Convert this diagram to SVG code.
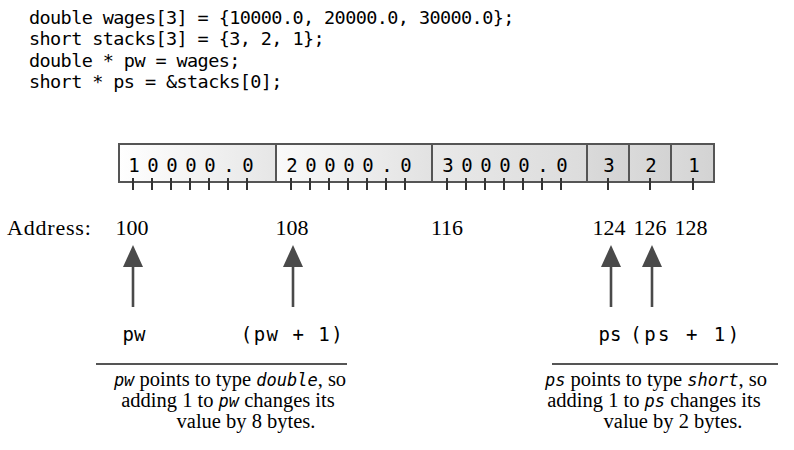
<svg xmlns="http://www.w3.org/2000/svg" width="794" height="450" viewBox="0 0 794 450">
<defs>
<linearGradient id="g1" x1="0" y1="0" x2="1" y2="0"><stop offset="0" stop-color="#ffffff"/><stop offset="1" stop-color="#e6e6e6"/></linearGradient>
<linearGradient id="g2" x1="0" y1="0" x2="1" y2="0"><stop offset="0" stop-color="#fafafa"/><stop offset="1" stop-color="#e2e2e2"/></linearGradient>
<linearGradient id="g3" x1="0" y1="0" x2="1" y2="0"><stop offset="0" stop-color="#e9e9e9"/><stop offset="1" stop-color="#dcdcdc"/></linearGradient>
<linearGradient id="g4" x1="0" y1="0" x2="1" y2="0"><stop offset="0" stop-color="#dadada"/><stop offset="1" stop-color="#d3d3d3"/></linearGradient>
<marker id="ah" viewBox="0 0 22 20" refX="0" refY="10" markerWidth="22" markerHeight="20" markerUnits="userSpaceOnUse" orient="auto"><path d="M0,0 L22,10 L0,20 z" fill="#4a4a4a"/></marker>
</defs>
<style>
.code{font-family:"DejaVu Sans Mono","Liberation Mono",monospace;font-size:18.5px;letter-spacing:-0.6px;fill:#000}
.cell{stroke:#555;stroke-width:2}
.bt{font-family:"DejaVu Sans Mono","Liberation Mono",monospace;font-size:19px;fill:#000;text-anchor:middle}
.tick{stroke:#333;stroke-width:2}
.addr{font-family:"Liberation Serif","Times New Roman",serif;font-size:22px;fill:#000}
.lbl{font-family:"DejaVu Sans Mono","Liberation Mono",monospace;font-size:19px;fill:#000}
.arr{stroke:#4a4a4a;stroke-width:2.6}
.rule{stroke:#555;stroke-width:2}
.cap{font-family:"Liberation Serif","Times New Roman",serif;font-size:20.5px;fill:#000;text-anchor:middle}
.mi{font-family:"DejaVu Sans Mono","Liberation Mono",monospace;font-style:italic;font-size:17px}
</style>
<g id="code">
<text class="code" x="29" y="24">double wages[3] = {10000.0, 20000.0, 30000.0};</text>
<text class="code" x="29" y="45">short stacks[3] = {3, 2, 1};</text>
<text class="code" x="29" y="66.5">double * pw = wages;</text>
<text class="code" x="29" y="88">short * ps = &amp;stacks[0];</text>
</g>
<g id="memory">
<g id="cell-w0"><rect class="cell" x="119" y="144" width="157" height="38" fill="url(#g1)"/>
<text class="bt" x="134 153 172 191 210 229 248" y="172">10000.0</text></g>
<g id="cell-w1"><rect class="cell" x="276" y="144" width="156" height="38" fill="url(#g2)"/>
<text class="bt" x="292 311 330 349 368 387 406" y="172">20000.0</text></g>
<g id="cell-w2"><rect class="cell" x="432" y="144" width="155" height="38" fill="url(#g3)"/>
<text class="bt" x="448 467 486 505 524 543 562" y="172">30000.0</text></g>
<g id="cell-s0"><rect class="cell" x="587" y="144" width="42" height="38" fill="url(#g4)"/>
<text class="bt" x="609" y="172">3</text></g>
<g id="cell-s1"><rect class="cell" x="629" y="144" width="42" height="38" fill="url(#g4)"/>
<text class="bt" x="651" y="172">2</text></g>
<g id="cell-s2"><rect class="cell" x="671" y="144" width="43" height="38" fill="url(#g4)"/>
<text class="bt" x="694" y="172">1</text></g>
<path class="tick" d="M133,178V190M152,178V190M171,178V190M190,178V190M209,178V190M228,178V190M247,178V190M291,178V190M310,178V190M329,178V190M348,178V190M367,178V190M386,178V190M405,178V190M447,178V190M466,178V190M485,178V190M504,178V190M523,178V190M542,178V190M561,178V190M608,178V190M650,178V190M693,178V190"/>
</g>
<g id="addresses">
<text class="addr" x="7" y="235" letter-spacing="0.8">Address:</text>
<text class="addr" x="132" y="235" text-anchor="middle">100</text>
<text class="addr" x="292" y="235" text-anchor="middle">108</text>
<text class="addr" x="447" y="235" text-anchor="middle">116</text>
<text class="addr" x="609" y="235" text-anchor="middle">124</text>
<text class="addr" x="650" y="235" text-anchor="middle">126</text>
<text class="addr" x="691" y="235" text-anchor="middle">128</text>
</g>
<g id="connectors">
<line class="arr" x1="133" y1="307" x2="133" y2="267" marker-end="url(#ah)"/>
<line class="arr" x1="293" y1="307" x2="293" y2="267" marker-end="url(#ah)"/>
<line class="arr" x1="611" y1="307" x2="611" y2="267" marker-end="url(#ah)"/>
<line class="arr" x1="652" y1="307" x2="652" y2="267" marker-end="url(#ah)"/>
</g>
<g id="label-pw"><text class="lbl" x="134" y="341" text-anchor="middle">pw</text></g>
<g id="label-pw1"><text class="lbl" x="292.5" y="341" text-anchor="middle" letter-spacing="1.5">(pw + 1)</text></g>
<g id="label-ps"><text class="lbl" x="610" y="341" text-anchor="middle">ps</text></g>
<g id="label-ps1"><text class="lbl" x="686" y="341" text-anchor="middle" letter-spacing="2.5">(ps + 1)</text></g>
<g id="note-pw">
<line class="rule" x1="96" y1="364" x2="347" y2="364"/>
<text class="cap" x="230" y="386"><tspan class="mi">pw</tspan> points to type <tspan class="mi">double</tspan>, so</text>
<text class="cap" x="228" y="407">adding 1 to <tspan class="mi">pw</tspan> changes its</text>
<text class="cap" x="246" y="428">value by 8 bytes.</text>
</g>
<g id="note-ps">
<line class="rule" x1="552" y1="364" x2="778" y2="364"/>
<text class="cap" x="656" y="386"><tspan class="mi">ps</tspan> points to type <tspan class="mi">short</tspan>, so</text>
<text class="cap" x="654" y="407">adding 1 to <tspan class="mi">ps</tspan> changes its</text>
<text class="cap" x="673" y="428">value by 2 bytes.</text>
</g>
</svg>
